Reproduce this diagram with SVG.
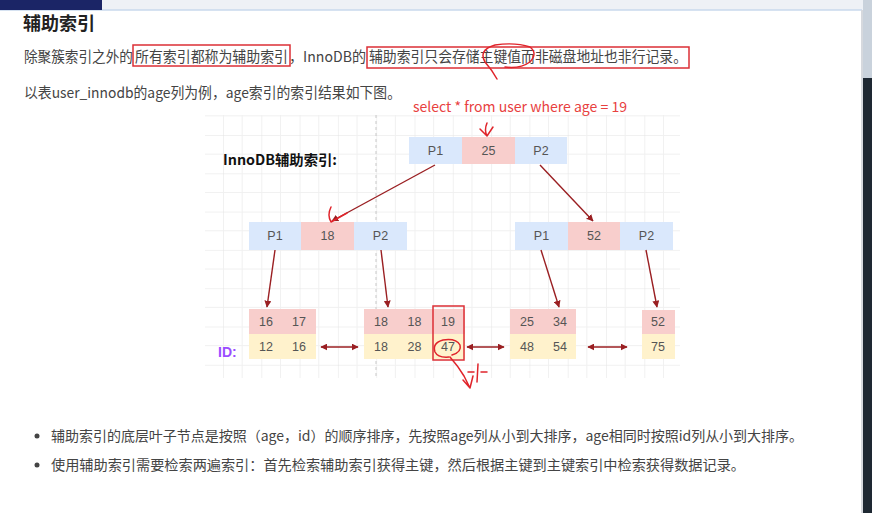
<svg xmlns="http://www.w3.org/2000/svg" width="872" height="513" viewBox="0 0 872 513">
<style>
.cjk{font-family:"Noto Sans CJK SC","Liberation Sans",sans-serif}
.p{font-size:14.5px;fill:#444}
.cell{font-family:"Liberation Sans",Arial,sans-serif;font-size:12.5px;fill:#555;text-anchor:middle}
.blue{fill:#dae8fc}
.pink{fill:#f8cecc}
.yel{fill:#fff2cc}
.conn{stroke:#9a1f22;stroke-width:1.4;fill:none}
.hl{stroke:#dc2f36;stroke-width:1.5;fill:none}
.hand{stroke:#e0242b;stroke-width:1.5;fill:none;stroke-linecap:round;stroke-linejoin:round}
</style>
<defs>
<marker id="ah" viewBox="0 0 10 10" refX="9" refY="5" markerWidth="7" markerHeight="7" orient="auto-start-reverse" markerUnits="userSpaceOnUse">
<path d="M0,0 L10,5 L0,10 z" fill="#9a1f22"/>
</marker>
<pattern id="grid" x="223" y="135" width="38.3" height="38.3" patternUnits="userSpaceOnUse">
<path d="M0,0 V38.3 M0,0 H38.3" stroke="#e3e3e3" stroke-width="1" fill="none"/>
<path d="M19.15,0 V38.3 M0,19.15 H38.3" stroke="#f0f0f0" stroke-width="1" fill="none"/>
</pattern>
</defs>
<rect width="872" height="513" fill="#ffffff"/>
<!-- page chrome -->
<rect x="0" y="0" width="872" height="10" fill="#eef1f6"/>
<line x1="0" y1="10" x2="862" y2="10" stroke="#c9d8ec" stroke-width="1.5"/>
<rect x="0" y="0" width="102" height="10" fill="#1b2566"/>
<rect x="861" y="10" width="2" height="503" fill="#d6d9de"/>
<rect x="863" y="0" width="9" height="78" fill="#c9d2dc"/>
<rect x="863" y="78" width="9" height="435" fill="#1e2832"/>

<!-- texts -->
<text class="cjk" x="23" y="30" font-size="18" font-weight="bold" fill="#222">辅助索引</text>
<g class="cjk p">
<text x="24" y="62" textLength="109" lengthAdjust="spacingAndGlyphs">除聚簇索引之外的</text>
<text x="135" y="62" textLength="153" lengthAdjust="spacingAndGlyphs">所有索引都称为辅助索引</text>
<text x="289" y="62" textLength="77" lengthAdjust="spacingAndGlyphs">，InnoDB的</text>
<text x="369" y="62" textLength="318" lengthAdjust="spacingAndGlyphs">辅助索引只会存储主键值而非磁盘地址也非行记录。</text>
<text x="24" y="98" textLength="377" lengthAdjust="spacingAndGlyphs">以表user_innodb的age列为例，age索引的索引结果如下图。</text>
</g>
<rect class="hl" x="133" y="45" width="157" height="21"/>
<rect class="hl" x="367" y="47" width="322" height="21"/>
<path class="hand" d="M497,79 Q492,70 485,62 Q478,50 495,45 Q515,42 530,47 Q538,53 530,62 Q520,69 505,67"/>

<!-- diagram background -->
<rect x="205" y="115" width="475" height="263" fill="url(#grid)"/>
<line x1="376" y1="115" x2="376" y2="378" stroke="#c8c8c8" stroke-width="1" stroke-dasharray="3,3"/>

<text class="cjk" x="413" y="112" font-size="14" fill="#e8413f" textLength="214" lengthAdjust="spacingAndGlyphs">select * from user where age = 19</text>
<text class="cjk" x="223" y="165" font-size="14" font-weight="bold" fill="#111" textLength="114" lengthAdjust="spacingAndGlyphs">InnoDB辅助索引:</text>
<text x="218" y="357" font-family="Liberation Sans,Arial,sans-serif" font-size="14" font-weight="bold" fill="#9b4dff">ID:</text>

<!-- root node -->
<g id="root">
<rect class="blue" x="409" y="137" width="53" height="27"/>
<rect class="pink" x="462" y="137" width="53" height="27"/>
<rect class="blue" x="515" y="137" width="52" height="27"/>
<text class="cell" x="435.5" y="155">P1</text>
<text class="cell" x="488.5" y="155">25</text>
<text class="cell" x="541" y="155">P2</text>
</g>
<!-- level 2 -->
<g id="midLeft">
<rect class="blue" x="249" y="222" width="52" height="28"/>
<rect class="pink" x="301" y="222" width="53" height="28"/>
<rect class="blue" x="354" y="222" width="53" height="28"/>
<text class="cell" x="275" y="240">P1</text>
<text class="cell" x="327.5" y="240">18</text>
<text class="cell" x="380.5" y="240">P2</text>
</g>
<g id="midRight">
<rect class="blue" x="515" y="222" width="53" height="28"/>
<rect class="pink" x="568" y="222" width="52" height="28"/>
<rect class="blue" x="620" y="222" width="53" height="28"/>
<text class="cell" x="541.5" y="240">P1</text>
<text class="cell" x="594" y="240">52</text>
<text class="cell" x="646.5" y="240">P2</text>
</g>
<!-- leaves -->
<g id="leaf1">
<rect class="pink" x="249" y="309" width="67" height="25"/>
<rect class="yel" x="249" y="334" width="67" height="25"/>
<text class="cell" x="266" y="326">16</text>
<text class="cell" x="299" y="326">17</text>
<text class="cell" x="266" y="351">12</text>
<text class="cell" x="299" y="351">16</text>
</g>
<g id="leaf2">
<rect class="pink" x="364" y="309" width="101" height="25"/>
<rect class="yel" x="364" y="334" width="101" height="25"/>
<text class="cell" x="381" y="326">18</text>
<text class="cell" x="414.5" y="326">18</text>
<text class="cell" x="448" y="326">19</text>
<text class="cell" x="381" y="351">18</text>
<text class="cell" x="414.5" y="351">28</text>
<text class="cell" x="448" y="351">47</text>
</g>
<g id="leaf3">
<rect class="pink" x="510" y="309" width="66" height="25"/>
<rect class="yel" x="510" y="334" width="66" height="25"/>
<text class="cell" x="527" y="326">25</text>
<text class="cell" x="560" y="326">34</text>
<text class="cell" x="527" y="351">48</text>
<text class="cell" x="560" y="351">54</text>
</g>
<g id="leaf4">
<rect class="pink" x="642" y="310" width="33" height="24"/>
<rect class="yel" x="642" y="334" width="33" height="25"/>
<text class="cell" x="658" y="326">52</text>
<text class="cell" x="658" y="351">75</text>
</g>

<!-- connectors -->
<g id="connectors">
<line class="conn" x1="435" y1="165" x2="332" y2="221" marker-end="url(#ah)"/>
<line class="conn" x1="540" y1="165" x2="593" y2="221" marker-end="url(#ah)"/>
<line class="conn" x1="275" y1="250" x2="267" y2="307" marker-end="url(#ah)"/>
<line class="conn" x1="381" y1="250" x2="388" y2="307" marker-end="url(#ah)"/>
<line class="conn" x1="541" y1="250" x2="559" y2="307" marker-end="url(#ah)"/>
<line class="conn" x1="646" y1="250" x2="657" y2="307" marker-end="url(#ah)"/>
<line class="conn" x1="321" y1="347" x2="358" y2="347" marker-start="url(#ah)" marker-end="url(#ah)"/>
<line class="conn" x1="467" y1="347" x2="504" y2="347" marker-start="url(#ah)" marker-end="url(#ah)"/>
<line class="conn" x1="588" y1="347" x2="627" y2="347" marker-start="url(#ah)" marker-end="url(#ah)"/>
</g>

<!-- annotations -->
<rect class="hl" x="433" y="306" width="31" height="54"/>
<path class="hand" d="M487,123 Q484,130 487,136 M480,129 L487,136 L493,127"/>
<path class="hand" d="M331,207 Q327,215 331,222 L347,213"/>
<path class="hand" d="M449,357 Q438,358 435,352 Q432,343 443,340 Q456,338 460,345 Q462,352 452,355"/>
<path class="hand" d="M450,357 Q458,366 464,376 L470,388 M463,380 L470,388 L473,376"/>
<path class="hand" d="M468,372 L474,372 M481,372 L487,372 M478,364 L477,382"/>

<!-- bullets -->
<circle cx="37" cy="436" r="2.5" fill="#444"/>
<circle cx="37" cy="465" r="2.5" fill="#444"/>
<text class="cjk" x="51" y="441" font-size="14" fill="#444" textLength="752" lengthAdjust="spacingAndGlyphs">辅助索引的底层叶子节点是按照（age，id）的顺序排序，先按照age列从小到大排序，age相同时按照id列从小到大排序。</text>
<text class="cjk" x="51" y="470" font-size="14" fill="#444" textLength="694" lengthAdjust="spacingAndGlyphs">使用辅助索引需要检索两遍索引：首先检索辅助索引获得主键，然后根据主键到主键索引中检索获得数据记录。</text>
</svg>
